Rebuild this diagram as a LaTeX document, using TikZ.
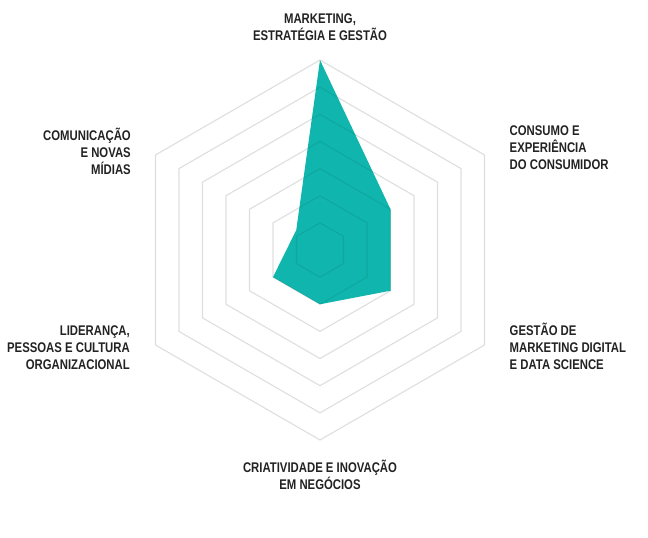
\documentclass[tikz,border=0pt]{standalone}
\usepackage{fontspec}
\setmainfont[FakeStretch=0.81]{Liberation Sans}
\definecolor{radarfill}{RGB}{16,182,173}
\definecolor{radargrid}{RGB}{222,222,222}
\definecolor{labeltext}{RGB}{34,34,34}
\newcommand{\radarstep}{27.14}
\begin{document}
\begin{tikzpicture}[x=1pt, y=1pt,
    gridline/.style={draw=radargrid, line width=1.1pt},
    axislabel/.style={inner sep=0pt, text=labeltext,
      font=\fontsize{14}{17}\selectfont\bfseries}]
  \useasboundingbox (-320, -288) rectangle (328, 250);
  \foreach \i in {1,...,7}
    \draw[gridline] (90:{\i*\radarstep}) -- (30:{\i*\radarstep})
      -- (-30:{\i*\radarstep}) -- (-90:{\i*\radarstep})
      -- (-150:{\i*\radarstep}) -- (150:{\i*\radarstep}) -- cycle;
  \coordinate (vmkt) at (90:{7*\radarstep});
  \coordinate (vcons) at (30:{3*\radarstep});
  \coordinate (vdig) at (-30:{3*\radarstep});
  \coordinate (vcri) at (-90:{2*\radarstep});
  \coordinate (vlid) at (-150:{2*\radarstep});
  \coordinate (vcom) at (140:31);
  \fill[radarfill] (vmkt) -- (vcons) -- (vdig) -- (vcri) -- (vlid) -- (vcom) -- cycle;
  \begin{scope}
    \clip (vmkt) -- (vcons) -- (vdig) -- (vcri) -- (vlid) -- (vcom) -- cycle;
    \foreach \i in {1,...,7}
      \draw[line width=1.1pt, black, opacity=.08] (90:{\i*\radarstep})
        -- (30:{\i*\radarstep}) -- (-30:{\i*\radarstep})
        -- (-90:{\i*\radarstep}) -- (-150:{\i*\radarstep})
        -- (150:{\i*\radarstep}) -- cycle;
  \end{scope}
  \node[axislabel, anchor=base, align=center] (mkt) at (0, 209)
    {MARKETING,\\ESTRATÉGIA E GESTÃO};
  \node[axislabel, anchor=base west, align=left] (cons) at (189.5, 80.7)
    {CONSUMO E\\EXPERIÊNCIA\\DO CONSUMIDOR};
  \node[axislabel, anchor=base west, align=left] (dig) at (189.5, -119.3)
    {GESTÃO DE\\MARKETING DIGITAL\\E DATA SCIENCE};
  \node[axislabel, anchor=base, align=center] (cri) at (0, -239)
    {CRIATIVIDADE E INOVAÇÃO\\EM NEGÓCIOS};
  \node[axislabel, anchor=base east, align=right] (lid) at (-190, -119.3)
    {LIDERANÇA,\\PESSOAS E CULTURA\\ORGANIZACIONAL};
  \node[axislabel, anchor=base east, align=right] (com) at (-189, 75)
    {COMUNICAÇÃO\\E NOVAS\\MÍDIAS};
\end{tikzpicture}
\end{document}
